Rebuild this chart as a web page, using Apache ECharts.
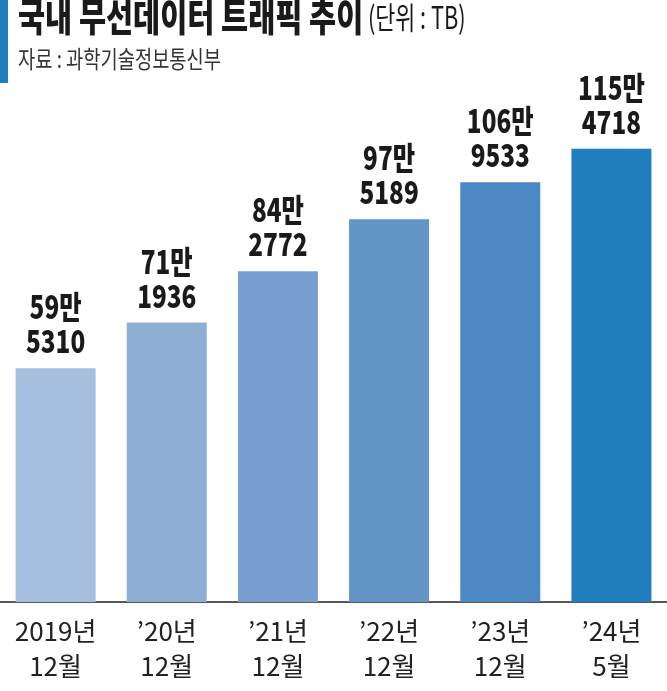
<!DOCTYPE html>
<html><head><meta charset="utf-8">
<script src="https://cdn.jsdelivr.net/npm/echarts@6/dist/echarts.min.js"></script>
<style>html,body{margin:0;padding:0;background:#fff}#c{width:667px;height:691px}</style>
</head><body><div id="c"></div>
<script>
const categories = ['2019년\n12월', '\u201920년\n12월', '\u201921년\n12월', '\u201922년\n12월', '\u201923년\n12월', '\u201924년\n5월'];
const traffic = [595310, 711936, 842772, 975189, 1069533, 1154718];
const barColors = ['#a5bfdf', '#8faed6', '#789fcf', '#6394c6', '#4b88c4', '#207ebe'];
const titleText = '국내 무선데이터 트래픽 추이';
const unitText = '(단위 : TB)';
const sourceText = '자료 : 과학기술정보통신부';

const cjk = '"Noto Sans CJK KR", "Noto Sans", sans-serif';
const chart = echarts.init(document.getElementById('c'));
chart.setOption({
  animation: false,
  grid: {left: 0, right: 0, top: 131, bottom: 89},
  xAxis: {
    type: 'category', data: categories,
    axisLine: {lineStyle: {color: '#222', width: 1.5}},
    axisTick: {show: false},
    axisLabel: {color: '#222', fontSize: 26, lineHeight: 35, margin: 12, fontFamily: cjk}
  },
  yAxis: {type: 'value', min: 0, max: 1200000, show: false, splitLine: {show: false}},
  graphic: [
    {type: 'rect', left: 0, top: 0, shape: {width: 8, height: 83}, style: {fill: '#207ebe'}},
    {type: 'text', x: 18, y: -3, scaleX: 0.755, style: {text: titleText, fontSize: 39, fontWeight: 900, fill: '#1a1a1a', fontFamily: cjk}},
    {type: 'text', x: 368, y: 2, scaleX: 0.7, style: {text: unitText, fontSize: 31, fill: '#1a1a1a', fontFamily: cjk}},
    {type: 'text', x: 18, y: 47, scaleX: 0.78, style: {text: sourceText, fontSize: 24, fill: '#333', fontFamily: cjk}}
  ],
  series: [{
    type: 'bar', barWidth: 80,
    data: traffic.map((v, i) => ({value: v, itemStyle: {color: barColors[i]}}))
  }, {
    type: 'custom',
    data: traffic.map((v, i) => [i, v]),
    renderItem: (params, api) => {
      const v = api.value(1);
      const p = api.coord([api.value(0), v]);
      return {
        type: 'text', x: p[0], y: p[1] - 10, scaleX: 0.76,
        style: {
          text: Math.floor(v / 10000) + '만\n' + (v % 10000),
          fontSize: 32, fontWeight: 900, lineHeight: 34,
          align: 'center', verticalAlign: 'bottom', fill: '#1a1a1a', fontFamily: cjk
        }
      };
    }
  }]
});
</script></body></html>
